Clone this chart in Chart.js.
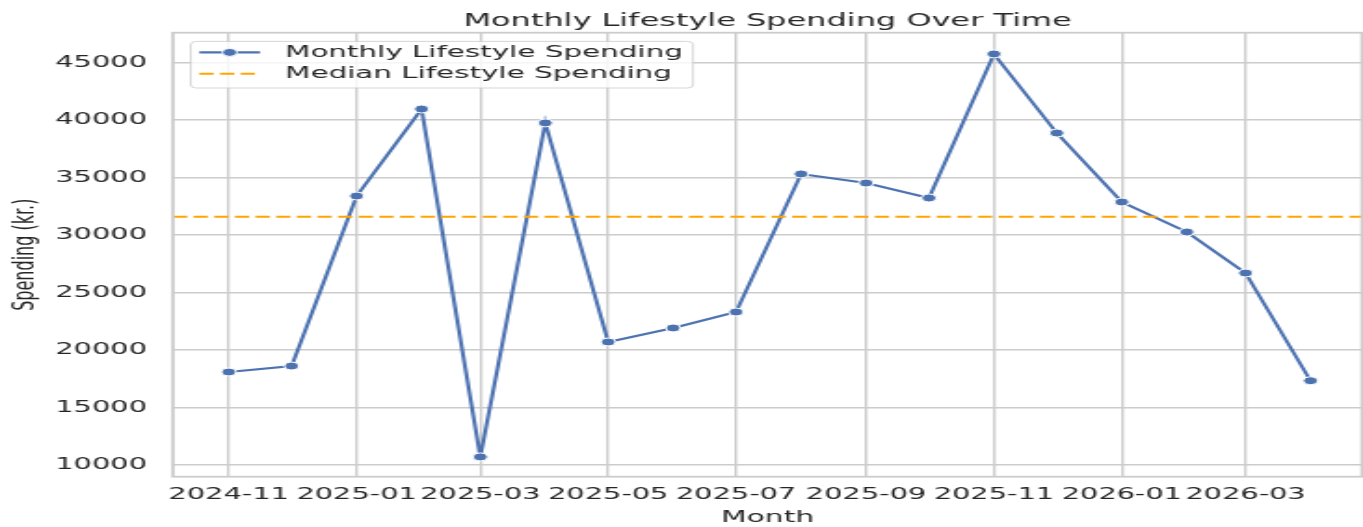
<!DOCTYPE html>
<html>
<head>
<meta charset="utf-8">
<script src="https://cdn.jsdelivr.net/npm/chart.js@4.4.1/dist/chart.umd.min.js"></script>
<style>
html, body { margin: 0; padding: 0; background: #ffffff; overflow: hidden; width: 1363px; height: 527px; }
#wrap { position: absolute; left: 0; top: 0; width: 733px; height: 527px; transform: scaleX(1.85948); transform-origin: 0 0; }
#c { display: block; width: 733px; height: 527px; }
</style>
</head>
<body>
<div id="wrap"><canvas id="c" width="733" height="527"></canvas></div>
<script>
// ---- data ----
const months = ['2024-11','2024-12','2025-01','2025-02','2025-03','2025-04','2025-05','2025-06','2025-07',
                '2025-08','2025-09','2025-10','2025-11','2025-12','2026-01','2026-02','2026-03','2026-04'];
const spending = [18090, 18610, 33400, 40970, 10700, 39760, 20700, 21920, 23310,
                  35320, 34530, 33230, 45760, 38880, 32880, 30270, 26700, 17330];
const medianSpending = 31600;
const xTickLabels = ['2024-11','2025-01','2025-03','2025-05','2025-07','2025-09','2025-11','2026-01','2026-03'];
const yTickValues = [10000, 15000, 20000, 25000, 30000, 35000, 40000, 45000];
const seriesLabels = ['Monthly Lifestyle Spending', 'Median Lifestyle Spending'];
const chartTitle = 'Monthly Lifestyle Spending Over Time';
const xTitle = 'Month';
const yTitle = 'Spending (kr.)';

// ---- helpers ----
function dayNum(s) { const [y, m] = s.split('-').map(Number); return Date.UTC(y, m - 1, 1) / 86400000; }
const xMin = dayNum(months[0]) - 26.6;
const xMax = dayNum(months[months.length - 1]) + 24.6;

const FONT = '"DejaVu Sans", "Liberation Sans", sans-serif';
const TEXT = '#262626';
const GRID = '#cccccc';
const BLUE = '#4c72b0';
const ORANGE = '#ffa500';

const framePlugin = {
  id: 'frame',
  afterDatasetsDraw(chart) {
    const { ctx, chartArea: a } = chart;
    ctx.save();
    ctx.strokeStyle = GRID;
    ctx.lineWidth = 1.8;
    ctx.strokeRect(a.left, a.top, a.right - a.left, a.bottom - a.top);
    ctx.restore();
  }
};

const titlePlugin = {
  id: 'ctitle',
  afterDraw(chart) {
    const { ctx, chartArea: a } = chart;
    ctx.save();
    ctx.font = '17.2px ' + FONT;
    ctx.fillStyle = TEXT;
    ctx.textAlign = 'center';
    ctx.textBaseline = 'alphabetic';
    ctx.fillText(chartTitle, (a.left + a.right) / 2, 26);
    ctx.restore();
  }
};

function roundRect(ctx, x, y, w, h, r) {
  ctx.beginPath();
  ctx.moveTo(x + r, y);
  ctx.lineTo(x + w - r, y);
  ctx.quadraticCurveTo(x + w, y, x + w, y + r);
  ctx.lineTo(x + w, y + h - r);
  ctx.quadraticCurveTo(x + w, y + h, x + w - r, y + h);
  ctx.lineTo(x + r, y + h);
  ctx.quadraticCurveTo(x, y + h, x, y + h - r);
  ctx.lineTo(x, y + r);
  ctx.quadraticCurveTo(x, y, x + r, y);
  ctx.closePath();
}

const legendPlugin = {
  id: 'clegend',
  afterDraw(chart) {
    const { ctx, chartArea: a } = chart;
    ctx.save();
    ctx.font = '15.8px ' + FONT;
    const left = a.left + 9.6, top = a.top + 8.7;
    const textX = left + 50.7;
    const maxW = Math.max(...seriesLabels.map(l => ctx.measureText(l).width));
    const w = textX - left + maxW + 5.5;
    const h = 46.6;
    roundRect(ctx, left, top, w, h, 3);
    ctx.fillStyle = 'rgba(255,255,255,0.8)';
    ctx.fill();
    ctx.strokeStyle = 'rgba(204,204,204,0.8)';
    ctx.lineWidth = 1;
    ctx.stroke();
    const rows = [top + 11, top + 32.3];
    const hx0 = left + 4.6, hx1 = left + 37.2;
    ctx.strokeStyle = BLUE; ctx.lineWidth = 2.1; ctx.setLineDash([]);
    ctx.beginPath(); ctx.moveTo(hx0, rows[0]); ctx.lineTo(hx1, rows[0]); ctx.stroke();
    ctx.beginPath(); ctx.arc((hx0 + hx1) / 2, rows[0], 4, 0, Math.PI * 2);
    ctx.fillStyle = BLUE; ctx.fill();
    ctx.strokeStyle = '#ffffff'; ctx.lineWidth = 1; ctx.stroke();
    ctx.strokeStyle = ORANGE; ctx.lineWidth = 2.1; ctx.setLineDash([7.7, 3.4]);
    ctx.beginPath(); ctx.moveTo(hx0, rows[1]); ctx.lineTo(hx1, rows[1]); ctx.stroke();
    ctx.setLineDash([]);
    ctx.fillStyle = TEXT;
    ctx.textAlign = 'left';
    ctx.textBaseline = 'middle';
    seriesLabels.forEach((l, i) => ctx.fillText(l, textX, rows[i]));
    ctx.restore();
  }
};

function zeroPad(s) { s.paddingLeft = 0; s.paddingRight = 0; s.paddingTop = 0; s.paddingBottom = 0; }

new Chart(document.getElementById('c'), {
  type: 'line',
  data: {
    datasets: [
      {
        label: seriesLabels[0],
        data: months.map((m, i) => ({ x: dayNum(m), y: spending[i] })),
        borderColor: BLUE,
        backgroundColor: BLUE,
        borderWidth: 2.1,
        pointRadius: 4,
        pointBorderWidth: 1,
        pointBorderColor: '#ffffff',
        pointBackgroundColor: BLUE,
        tension: 0,
        fill: false,
        order: 1
      },
      {
        label: seriesLabels[1],
        data: [{ x: xMin, y: medianSpending }, { x: xMax, y: medianSpending }],
        borderColor: ORANGE,
        backgroundColor: ORANGE,
        borderWidth: 2.1,
        borderDash: [7.7, 3.4],
        pointRadius: 0,
        fill: false,
        order: 0
      }
    ]
  },
  options: {
    responsive: false,
    maintainAspectRatio: false,
    animation: false,
    devicePixelRatio: 1,
    layout: { autoPadding: false, padding: { left: 0, right: 0.5, top: 32.7, bottom: 0 } },
    plugins: {
      legend: { display: false },
      title: { display: false },
      tooltip: { enabled: false }
    },
    scales: {
      x: {
        type: 'linear',
        min: xMin,
        max: xMax,
        afterBuildTicks: (s) => { s.ticks = xTickLabels.map(l => ({ value: dayNum(l) })); },
        afterFit: (s) => { s.height = 50.3; zeroPad(s); },
        grid: { color: GRID, lineWidth: 1.4, drawTicks: false },
        border: { display: false },
        ticks: {
          autoSkip: false, maxRotation: 0, minRotation: 0, padding: 8.7,
          color: TEXT, font: { family: FONT, size: 15.5 },
          callback: (v, i) => xTickLabels[i]
        },
        title: { display: true, text: xTitle, color: TEXT, font: { family: FONT, size: 16 }, padding: { top: 0, bottom: 0 } }
      },
      y: {
        type: 'linear',
        min: 8980,
        max: 47610,
        afterBuildTicks: (s) => { s.ticks = yTickValues.map(v => ({ value: v })); },
        afterFit: (s) => { s.width = 93; zeroPad(s); },
        grid: { color: GRID, lineWidth: 1.4, drawTicks: false },
        border: { display: false },
        ticks: {
          padding: 14, color: TEXT, font: { family: FONT, size: 15.5 },
          callback: (v) => String(v)
        },
        title: { display: true, text: yTitle, color: TEXT, font: { family: FONT, size: 16 }, padding: { top: 4.4, bottom: 0 } }
      }
    }
  },
  plugins: [framePlugin, legendPlugin, titlePlugin]
});
</script>
</body>
</html>
